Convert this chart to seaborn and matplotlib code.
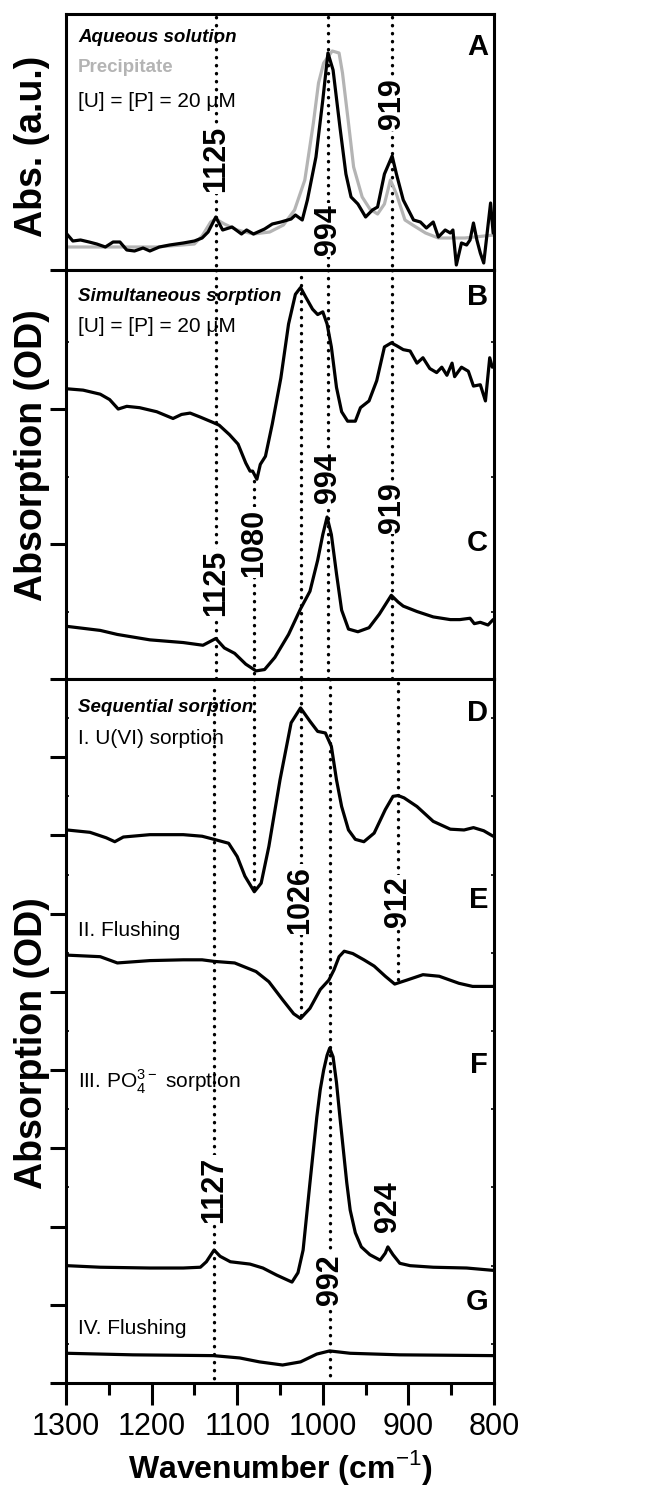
import numpy as np
import pandas as pd
import matplotlib
matplotlib.use("Agg")
import matplotlib.pyplot as plt
from matplotlib import font_manager as fm
from matplotlib.ticker import FixedLocator, MultipleLocator
import seaborn as sns

# ---------------- data (wavenumber in cm-1, absorbance in arbitrary/OD units) -------------
wn_A_sol = [1299, 1292, 1283, 1273, 1264, 1254, 1245, 1237, 1229, 1220, 1210, 1202, 1191, 1179,
            1163, 1150, 1141, 1134, 1125, 1117, 1106, 1095, 1089, 1081, 1068, 1059, 1049, 1037,
            1032, 1024, 1018, 1008, 1000, 994, 988, 980, 973, 967, 959, 950, 942, 936, 928, 919,
            914, 906, 900, 894, 886, 879, 871, 865, 857, 851, 848, 844, 838, 832, 828, 824, 820,
            816, 812, 808, 804, 801]
abs_A_sol = [0.36, 0.29, 0.30, 0.28, 0.26, 0.23, 0.28, 0.28, 0.20, 0.19, 0.22, 0.19, 0.23, 0.25,
             0.27, 0.29, 0.32, 0.38, 0.53, 0.40, 0.43, 0.36, 0.40, 0.36, 0.41, 0.46, 0.48, 0.51,
             0.55, 0.50, 0.70, 1.13, 1.70, 2.17, 2.00, 1.43, 0.96, 0.73, 0.66, 0.53, 0.60, 0.63, 0.96, 1.14,
             0.96, 0.70, 0.60, 0.50, 0.48, 0.42, 0.48, 0.33, 0.40, 0.37, 0.40, 0.05, 0.27, 0.25, 0.30,
             0.47, 0.30, 0.17, 0.07, 0.37, 0.67, 0.37]

wn_A_pre = [1299, 1194, 1150, 1141, 1131, 1125, 1115, 1100, 1081, 1062, 1046, 1033, 1021, 1011,
            1005, 999, 989, 981, 977, 970, 964, 954, 945, 936, 928, 921, 914, 904, 895, 880, 865,
            834, 800]
abs_A_pre = [0.23, 0.23, 0.26, 0.34, 0.48, 0.51, 0.46, 0.40, 0.36, 0.38, 0.45, 0.60, 0.90, 1.47,
             1.87, 2.07, 2.19, 2.17, 1.97, 1.47, 1.03, 0.73, 0.61, 0.56, 0.66, 0.90, 0.76, 0.50, 0.45,
             0.37, 0.32, 0.32, 0.35]

wn_B = [1299, 1280, 1260, 1249, 1239, 1229, 1214, 1194, 1175, 1165, 1155, 1143, 1128, 1121, 1109,
        1099, 1090, 1085, 1082, 1077, 1073, 1067, 1059, 1049, 1040, 1032, 1026, 1020, 1012, 1006,
        1000, 995, 990, 984, 978, 971, 962, 956, 946, 937, 928, 920, 914, 906, 898, 890, 883, 875,
        867, 861, 855, 849, 846, 838, 830, 824, 816, 810, 805, 802]
abs_B = [2.15, 2.14, 2.11, 2.07, 2.00, 2.02, 2.01, 1.98, 1.93, 1.96, 1.97, 1.94, 1.90, 1.88, 1.81,
         1.74, 1.60, 1.54, 1.54, 1.48, 1.59, 1.65, 1.89, 2.23, 2.63, 2.85, 2.90, 2.83, 2.74, 2.70,
         2.72, 2.63, 2.46, 2.16, 1.98, 1.91, 1.91, 2.01, 2.06, 2.21, 2.46, 2.49, 2.47, 2.44, 2.43,
         2.34, 2.38, 2.30, 2.27, 2.31, 2.25, 2.34, 2.24, 2.31, 2.28, 2.17, 2.18, 2.06, 2.38, 2.31]

wn_C = [1299, 1260, 1240, 1202, 1163, 1140, 1125, 1115, 1103, 1090, 1078, 1068, 1056, 1040, 1026,
        1015, 1006, 1000, 995, 990, 984, 978, 970, 959, 946, 934, 924, 920, 912, 906, 890, 871,
        851, 840, 828, 823, 816, 807, 801]
abs_C = [0.39, 0.36, 0.33, 0.29, 0.27, 0.25, 0.30, 0.23, 0.19, 0.11, 0.06, 0.07, 0.16, 0.33, 0.52,
         0.65, 0.88, 1.07, 1.20, 1.07, 0.78, 0.51, 0.37, 0.35, 0.38, 0.48, 0.58, 0.62, 0.57, 0.54,
         0.50, 0.46, 0.44, 0.44, 0.45, 0.41, 0.42, 0.40, 0.44]

wn_D = [1299, 1272, 1253, 1243, 1233, 1202, 1163, 1141, 1127, 1110, 1100, 1091, 1080, 1072, 1063,
        1050, 1037, 1026, 1015, 1006, 997, 990, 984, 978, 970, 962, 952, 940, 927, 918, 912, 905,
        890, 871, 851, 835, 824, 812, 801]
abs_D = [7.07, 7.04, 6.97, 6.92, 6.98, 7.01, 7.01, 6.99, 6.95, 6.90, 6.73, 6.48, 6.28, 6.39, 6.86,
         7.71, 8.44, 8.63, 8.46, 8.33, 8.31, 8.14, 7.71, 7.37, 7.07, 6.95, 6.92, 7.03, 7.33, 7.50,
         7.51, 7.48, 7.37, 7.18, 7.08, 7.07, 7.10, 7.06, 6.99]

wn_E = [1299, 1260, 1240, 1202, 1163, 1141, 1127, 1103, 1078, 1063, 1047, 1034, 1026, 1015, 1003,
        993, 987, 981, 975, 965, 952, 940, 927, 916, 902, 883, 864, 841, 825, 801]
abs_E = [5.47, 5.45, 5.37, 5.40, 5.41, 5.41, 5.39, 5.37, 5.26, 5.13, 4.90, 4.72, 4.66, 4.79, 5.03,
         5.15, 5.28, 5.45, 5.52, 5.49, 5.41, 5.33, 5.20, 5.10, 5.15, 5.22, 5.20, 5.11, 5.07, 5.07]

wn_F = [1299, 1260, 1202, 1163, 1143, 1136, 1127, 1120, 1108, 1085, 1070, 1054, 1042, 1036, 1029,
        1023, 1019, 1015, 1011, 1007, 1003, 999, 995, 992, 988, 984, 980, 976, 972, 968, 962, 955,
        945, 933, 927, 924, 918, 910, 898, 871, 832, 801]
abs_F = [1.50, 1.48, 1.47, 1.47, 1.48, 1.55, 1.70, 1.62, 1.55, 1.52, 1.47, 1.38, 1.32, 1.29, 1.41,
         1.70, 2.13, 2.56, 2.98, 3.40, 3.75, 4.00, 4.19, 4.28, 4.17, 3.84, 3.40, 2.98, 2.56, 2.21,
         1.92, 1.74, 1.64, 1.57, 1.66, 1.74, 1.64, 1.53, 1.50, 1.48, 1.47, 1.44]

wn_G = [1299, 1222, 1128, 1097, 1074, 1047, 1026, 1007, 992, 968, 910, 801]
abs_G = [0.38, 0.36, 0.35, 0.32, 0.27, 0.23, 0.27, 0.37, 0.41, 0.38, 0.36, 0.35]

x_ticks = [1300, 1200, 1100, 1000, 900, 800]

# ---------------- fonts / style ----------------
sns.set_style("ticks")


def has_font(name):
    try:
        fm.findfont(fm.FontProperties(family=name), fallback_to_default=False)
        return True
    except Exception:
        return False


BASE = "Liberation Sans" if has_font("Liberation Sans") else "DejaVu Sans"
NARROW = "Liberation Sans Narrow" if has_font("Liberation Sans Narrow") else BASE
plt.rcParams["font.family"] = [BASE, "DejaVu Sans"]
plt.rcParams["mathtext.fontset"] = "custom"
plt.rcParams["mathtext.rm"] = NARROW
plt.rcParams["mathtext.bf"] = BASE + ":bold"
plt.rcParams["axes.linewidth"] = 2.2
for k in ("text.color", "axes.labelcolor", "xtick.color", "ytick.color", "axes.edgecolor",
          "xtick.labelcolor", "ytick.labelcolor"):
    plt.rcParams[k] = "black"

fig = plt.figure(figsize=(6.46, 15.02), dpi=100)
L, W = 66 / 646, 428 / 646
axA = fig.add_axes([L, 1 - 270 / 1502, W, 256 / 1502])
axBC = fig.add_axes([L, 1 - 679 / 1502, W, 409 / 1502])
axDG = fig.add_axes([L, 1 - 1383 / 1502, W, 704 / 1502])

LW = 2.3
DOT = dict(color="black", lw=2.4, linestyle=(0, (0.1, 2.3)), dash_capstyle="round", zorder=1)
LBL = dict(rotation=90, ha="center", va="center", fontsize=22, fontweight="bold",
           bbox=dict(boxstyle="square,pad=0.05", fc="white", ec="none"), zorder=5)


def curve(ax, wn, ab, color="black", z=3):
    df = pd.DataFrame({"wn": wn, "ab": ab})
    sns.lineplot(data=df, x="wn", y="ab", ax=ax, color=color, lw=LW, estimator=None,
                 zorder=z, legend=False)


def vline(ax, w, y0, y1):
    ax.plot([w, w], [y0, y1], **DOT)


# ---------- Panel A ----------
curve(axA, wn_A_pre, abs_A_pre, color="#b4b4b4", z=2)
curve(axA, wn_A_sol, abs_A_sol)
axA.set_ylim(0, 2.56)
for w in (1125, 994, 919):
    vline(axA, w, 2.53, 0)
axA.text(1125, 1.11, "1125", **LBL)
axA.text(994, 0.40, "994", **LBL)
axA.text(919, 1.66, "919", **LBL)
axA.text(0.028, 0.91, "Aqueous solution", transform=axA.transAxes, fontsize=13.5,
         fontweight="bold", fontstyle="italic", va="center")
axA.text(0.028, 0.79, "Precipitate", transform=axA.transAxes, fontsize=13.5,
         fontweight="bold", color="#b4b4b4", va="center")
axA.text(0.028, 0.66, "[U] = [P] = 20 μM", transform=axA.transAxes, fontsize=15,
         family=[NARROW, "DejaVu Sans"], va="center")
axA.text(0.986, 0.87, "A", transform=axA.transAxes, fontsize=21, fontweight="bold",
         ha="right", va="center")
axA.yaxis.set_major_locator(FixedLocator([0]))

# ---------- Panel B / C ----------
curve(axBC, wn_B, abs_B)
curve(axBC, wn_C, abs_C)
axBC.set_ylim(0, 3.03)
vline(axBC, 1125, 3.03, 0)
vline(axBC, 1080, 1.47, 0)
vline(axBC, 1026, 2.98, 0)
vline(axBC, 994, 3.03, 0)
vline(axBC, 919, 3.03, 0)
axBC.text(1125, 0.71, "1125", **LBL)
axBC.text(1080, 1.01, "1080", **LBL)
axBC.text(994, 1.49, "994", **LBL)
axBC.text(919, 1.27, "919", **LBL)
axBC.text(0.028, 0.934, "Simultaneous sorption", transform=axBC.transAxes, fontsize=13.5,
          fontweight="bold", fontstyle="italic", va="center")
axBC.text(0.028, 0.861, "[U] = [P] = 20 μM", transform=axBC.transAxes, fontsize=15,
          family=[NARROW, "DejaVu Sans"], va="center")
axBC.text(0.986, 0.934, "B", transform=axBC.transAxes, fontsize=21, fontweight="bold",
          ha="right", va="center")
axBC.text(0.986, 0.333, "C", transform=axBC.transAxes, fontsize=21, fontweight="bold",
          ha="right", va="center")
axBC.yaxis.set_major_locator(FixedLocator([0, 1, 2]))
axBC.yaxis.set_minor_locator(FixedLocator([0.5, 1.5, 2.5]))

# ---------- Panel D - G ----------
curve(axDG, wn_D, abs_D)
curve(axDG, wn_E, abs_E)
curve(axDG, wn_F, abs_F)
curve(axDG, wn_G, abs_G)
axDG.set_ylim(0, 9)
vline(axDG, 1127, 8.86, 0)
vline(axDG, 1080, 9, 6.28)
vline(axDG, 1026, 9, 4.66)
vline(axDG, 992, 9, 0)
vline(axDG, 912, 8.95, 5.12)
axDG.text(1026, 6.18, "1026", **LBL)
axDG.text(912, 6.15, "912", **LBL)
axDG.text(1127, 2.47, "1127", **LBL)
axDG.text(992, 1.32, "992", **LBL)
axDG.text(924, 2.25, "924", **LBL)
txt = dict(transform=axDG.transAxes, va="center")
axDG.text(0.028, 0.959, "Sequential sorption", fontsize=13.5, fontweight="bold",
          fontstyle="italic", **txt)
nar = dict(fontsize=15, family=[NARROW, "DejaVu Sans"], **txt)
axDG.text(0.028, 0.916, "I. U(VI) sorption", **nar)
axDG.text(0.028, 0.643, "II. Flushing", **nar)
axDG.text(0.028, 0.428, r"III. PO$_4^{3-}$ sorption", **nar)
axDG.text(0.028, 0.078, "IV. Flushing", **nar)
for s, yy in (("D", 0.952), ("E", 0.686), ("F", 0.452), ("G", 0.115)):
    axDG.text(0.986, yy, s, transform=axDG.transAxes, fontsize=21, fontweight="bold",
              ha="right", va="center")
axDG.yaxis.set_major_locator(FixedLocator(list(range(0, 9))))
axDG.yaxis.set_minor_locator(FixedLocator([i + 0.5 for i in range(9)]))

# ---------- common axes styling ----------
for ax in (axA, axBC, axDG):
    ax.set_xlim(1300, 800)
    ax.set_ylabel("")
    ax.set_xlabel("")
    for sp in ax.spines.values():
        sp.set_visible(True)
        sp.set_linewidth(2.2)
        sp.set_color("black")
    ax.tick_params(axis="y", which="major", direction="out", length=11.5, width=2.2,
                   left=True, right=False, labelleft=False)
    ax.tick_params(axis="y", which="minor", direction="in", length=2.5, width=1.2,
                   left=True, right=True)
    ax.xaxis.set_major_locator(FixedLocator(x_ticks))
    ax.xaxis.set_minor_locator(MultipleLocator(50))
    if ax is not axDG:
        ax.tick_params(axis="x", which="both", bottom=False, labelbottom=False)

axDG.tick_params(axis="x", which="major", direction="out", length=16, width=2.2,
                 labelsize=22, pad=5)
axDG.tick_params(axis="x", which="minor", direction="out", length=8.5, width=2.2)
for lab in axDG.get_xticklabels():
    lab.set_family([NARROW, "DejaVu Sans"])
axDG.set_xlabel("Wavenumber (cm$^{-1}$)", fontsize=23, fontweight="bold", labelpad=4)

fig.text(32 / 646, 1 - 146 / 1502, "Abs. (a.u.)", rotation=90, ha="center", va="center",
         fontsize=27, fontweight="bold")
fig.text(32 / 646, 1 - 455 / 1502, "Absorption (OD)", rotation=90, ha="center", va="center",
         fontsize=27, fontweight="bold")
fig.text(32 / 646, 1 - 1043 / 1502, "Absorption (OD)", rotation=90, ha="center", va="center",
         fontsize=27, fontweight="bold")

fig.savefig("out.png", dpi=100)
